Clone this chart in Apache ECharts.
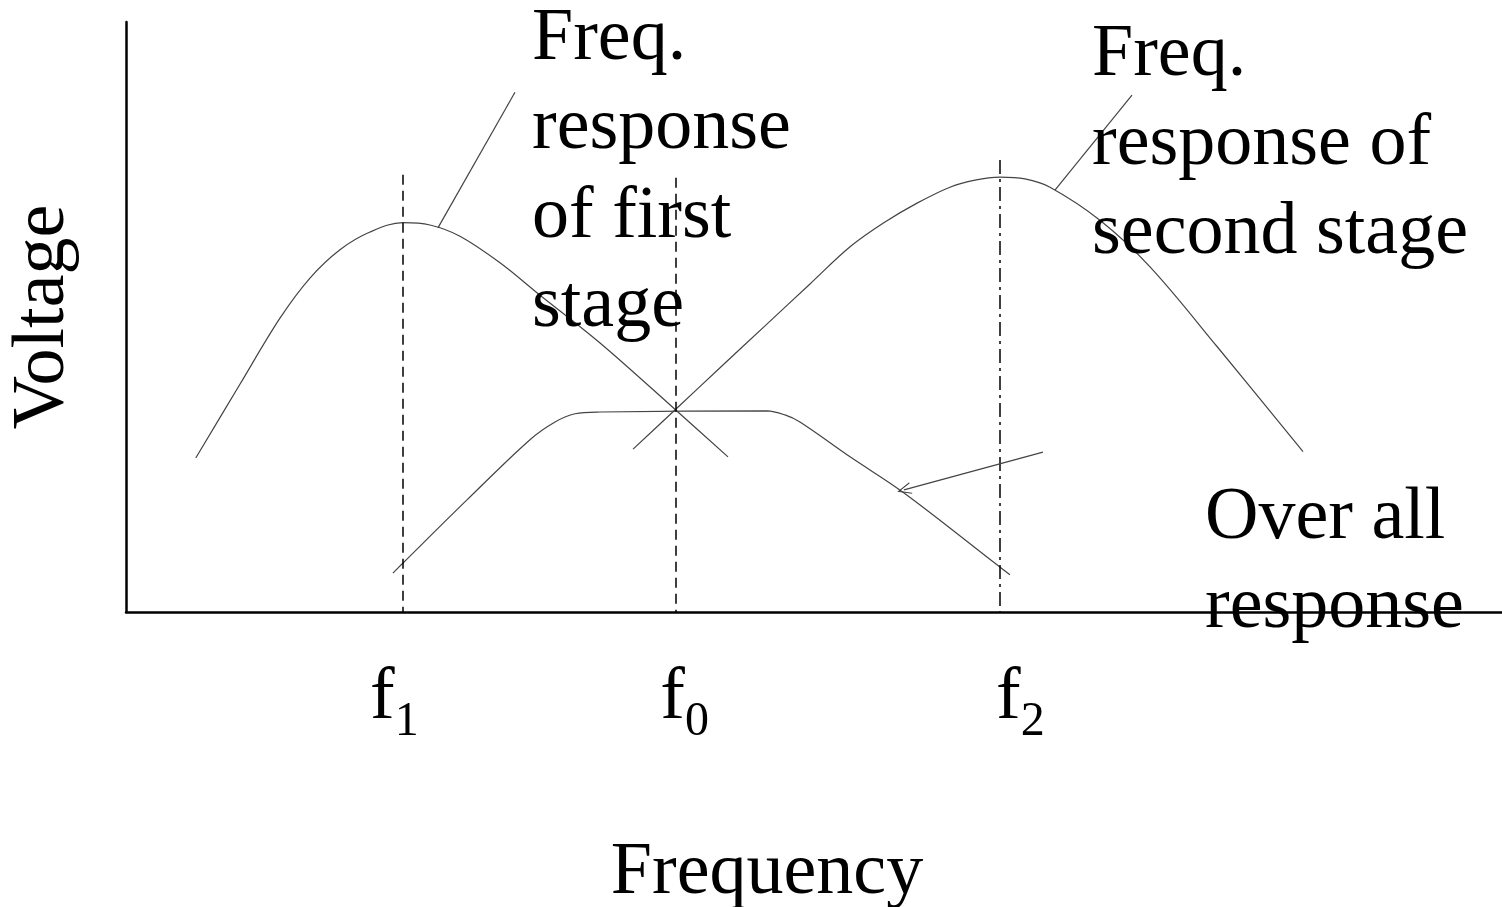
<!DOCTYPE html>
<html>
<head>
<meta charset="utf-8">
<title>Stagger tuned response</title>
<script src="https://cdn.jsdelivr.net/npm/echarts@6/dist/echarts.min.js"></script>
<style>
  html, body { margin: 0; padding: 0; background: #fff; }
  #main { width: 1502px; height: 907px; }
</style>
</head>
<body>
<div id="main"></div>
<script>
var myChart = echarts.init(document.getElementById('main'));

// frequency axis 0..100, voltage axis 0..100 (arbitrary units)
var stage1X = [5.07, 8.28, 11.19, 13.37, 15.55, 17.73, 20.13, 22.09, 24.27, 27.18, 30.09, 34.45, 39.97, 43.75];
var stage1Y = [26.1, 38.6, 49.8, 56.6, 61.4, 64.4, 66.0, 65.6, 63.7, 59.2, 53.7, 45.6, 34.2, 26.3];

var stage2X = [36.85, 39.97, 43.17, 46.44, 49.71, 52.62, 55.16, 57.49, 59.88, 61.70, 63.52, 65.33, 67.15, 70.78, 74.42, 79.29, 85.54];
var stage2Y = [27.6, 34.4, 41.4, 48.5, 55.6, 61.9, 66.1, 69.3, 72.0, 73.2, 73.7, 73.4, 72.0, 66.4, 58.5, 45.0, 27.2];

var overallX = [19.40, 20.13, 24.78, 29.36, 31.18, 32.63, 34.45, 46.58, 47.89, 48.98, 52.62, 56.47, 63.30, 64.24];
var overallY = [6.6, 8.3, 19.0, 29.2, 32.2, 33.6, 33.9, 34.1, 33.4, 32.2, 26.3, 20.3, 8.0, 6.3];

// f1, f0, f2 and how high their dashed lines go
var fMarks = [20.13, 39.97, 63.52];
var fTops = [74.1, 73.6, 76.6];
var fSubs = ['1', '0', '2'];
var fLabelAt = [19.5, 40.6, 65.0];

// pointer lines from the notes to the curves
var leader1 = [[28.27, 88.1], [22.67, 65.1]];
var leader2 = [[73.11, 87.6], [67.51, 71.5]];
var arrow = [[66.64, 27.1], [56.54, 20.7]];

var note1 = 'Freq.\nresponse\nof first\nstage';
var note2 = 'Freq.\nresponse of\nsecond stage';
var note3 = 'Over all\nresponse';

var serif = '"Liberation Serif", "Times New Roman", serif';
var curveColor = '#444';

function zip(xs, ys) {
    return xs.map(function (x, i) { return [x, ys[i]]; });
}

function curve(name, xs, ys) {
    return {
        name: name,
        type: 'line',
        data: zip(xs, ys),
        smooth: 0.35,
        showSymbol: false,
        silent: true,
        lineStyle: { color: curveColor, width: 1.2 }
    };
}

function straight(name, pts) {
    return {
        name: name,
        type: 'line',
        data: pts,
        showSymbol: false,
        silent: true,
        lineStyle: { color: curveColor, width: 1.2 }
    };
}

var dashLines = fMarks.map(function (x, i) {
    return [
        { coord: [x, fTops[i]], symbol: 'none',
          lineStyle: { color: '#000', width: 1.5, type: i === 2 ? [14, 5, 3, 5] : [10, 6] } },
        { coord: [x, 0], symbol: 'none' }
    ];
});

var option = {
    animation: false,
    grid: { left: 126, right: 0, top: 22, bottom: 295, containLabel: false, outerBoundsMode: 'none' },
    xAxis: {
        type: 'value',
        min: 0,
        max: 100,
        name: 'Frequency',
        nameLocation: 'middle',
        nameGap: 225,
        nameTextStyle: { fontFamily: serif, fontSize: 74, color: '#000', padding: [0, 94, 0, 0] },
        axisLine: { show: true, lineStyle: { color: '#000', width: 2.5 } },
        axisTick: { show: false },
        splitLine: { show: false },
        axisLabel: {
            customValues: fLabelAt,
            margin: 50,
            formatter: function (v) {
                var k = 0;
                for (var i = 0; i < fLabelAt.length; i++) {
                    if (Math.abs(fLabelAt[i] - v) < Math.abs(fLabelAt[k] - v)) k = i;
                }
                return '{f|f}{s|' + fSubs[k] + '}';
            },
            rich: {
                f: { fontFamily: serif, fontSize: 74, lineHeight: 80, color: '#000', verticalAlign: 'top' },
                s: { fontFamily: serif, fontSize: 48, lineHeight: 48, color: '#000', verticalAlign: 'top', padding: [36, 0, 0, 0] }
            }
        }
    },
    yAxis: {
        type: 'value',
        min: 0,
        max: 100,
        name: 'Voltage',
        nameLocation: 'middle',
        nameGap: 45,
        nameTextStyle: { fontFamily: serif, fontSize: 74, color: '#000' },
        axisLine: { show: true, lineStyle: { color: '#000', width: 2.5 } },
        axisTick: { show: false },
        axisLabel: { show: false },
        splitLine: { show: false }
    },
    series: [
        curve('First stage', stage1X, stage1Y),
        curve('Second stage', stage2X, stage2Y),
        curve('Overall', overallX, overallY),
        straight('leader 1', leader1),
        straight('leader 2', leader2),
        {
            name: 'marks',
            type: 'line',
            data: [],
            silent: true,
            markLine: {
                silent: true,
                animation: false,
                label: { show: false },
                emphasis: { disabled: true },
                data: dashLines.concat([[
                    { coord: arrow[0], symbol: 'none', lineStyle: { color: curveColor, width: 1.2, type: 'solid' } },
                    { coord: arrow[1], symbol: 'path://M5,0 L10,10 L9,10 L5,2 L1,10 L0,10 Z', symbolSize: [12, 14] }
                ]])
            }
        }
    ],
    graphic: [
        { type: 'text', x: 532, y: -5, z: 100, style: { text: note1, font: '74px ' + serif, lineHeight: 89, fill: '#000', verticalAlign: 'top' } },
        { type: 'text', x: 1092, y: 11, z: 100, style: { text: note2, font: '74px ' + serif, lineHeight: 89, fill: '#000', verticalAlign: 'top' } },
        { type: 'text', x: 1205, y: 474, z: 100, style: { text: note3, font: '74px ' + serif, lineHeight: 89, fill: '#000', verticalAlign: 'top' } }
    ]
};

myChart.setOption(option);
</script>
</body>
</html>
